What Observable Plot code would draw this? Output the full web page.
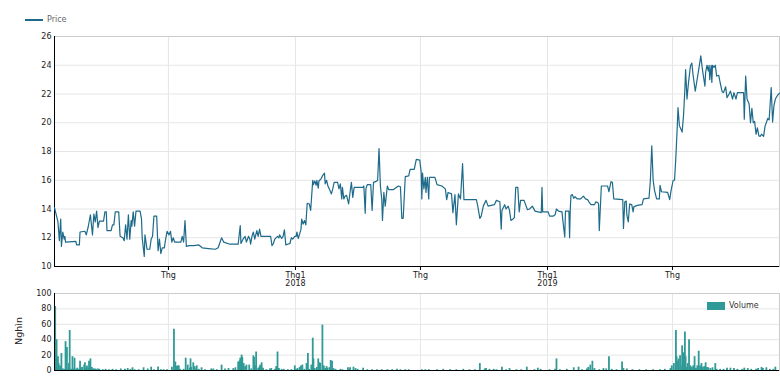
<!DOCTYPE html>
<html>
<head>
<meta charset="utf-8">
<script src="https://cdn.jsdelivr.net/npm/d3@7"></script>
<script src="https://cdn.jsdelivr.net/npm/@observablehq/plot@0.6"></script>
<style>
  html, body { margin: 0; padding: 0; background: #fff; }
  #wrap { position: relative; width: 780px; height: 378px; overflow: hidden; font-family: "DejaVu Sans", sans-serif; }
  #topChart, #bottomChart { position: absolute; left: 0; }
  #topChart { top: 0; }
  #bottomChart { top: 290px; }
  .leg { position: absolute; font-family: "DejaVu Sans", sans-serif; font-size: 8px; line-height: 10px; white-space: nowrap; }
  .leg .sw { position: absolute; }
  #ylab { position: absolute; left: 18px; top: 331px; width: 0; height: 0; }
  #ylab span { position: absolute; transform: translate(-50%, -50%) rotate(-90deg); font-family: "DejaVu Sans", sans-serif; font-size: 9.5px; color: #222; white-space: nowrap; }
</style>
</head>
<body>
<div id="wrap">
  <div id="topChart"></div>
  <div id="bottomChart"></div>
  <div class="leg" style="left:25px;top:15px;color:#666;">
    <span class="sw" style="left:0;top:4px;width:18px;height:2px;background:#1d6a8a;"></span>
    <span style="position:absolute;left:22px;top:0;">Price</span>
  </div>
  <div class="leg" style="left:707px;top:301px;color:#333;">
    <span class="sw" style="left:0;top:1px;width:18px;height:8px;background:#2f9a96;"></span>
    <span style="position:absolute;left:22px;top:0;">Volume</span>
  </div>
  <div id="ylab"><span>Nghìn</span></div>
</div>
<script>
const priceDates = [
"2017-01-17","2017-01-22","2017-01-24","2017-01-26","2017-01-27","2017-01-29","2017-01-31","2017-02-01","2017-02-02","2017-02-17",
"2017-02-18","2017-02-22","2017-02-23","2017-03-02","2017-03-04","2017-03-07","2017-03-10","2017-03-13","2017-03-15","2017-03-17",
"2017-03-19","2017-03-21","2017-03-23","2017-03-29","2017-03-31","2017-04-02","2017-04-03","2017-04-09","2017-04-11","2017-04-13",
"2017-04-15","2017-04-20","2017-04-22","2017-04-26","2017-04-28","2017-04-30","2017-05-02","2017-05-04","2017-05-06","2017-05-08",
"2017-05-09","2017-05-11","2017-05-13","2017-05-15","2017-05-21","2017-05-23","2017-05-24","2017-05-27","2017-05-28","2017-05-31",
"2017-06-04","2017-06-06","2017-06-08","2017-06-10","2017-06-14","2017-06-16","2017-06-18","2017-06-20","2017-06-22","2017-06-25",
"2017-06-27","2017-06-29","2017-07-02","2017-07-04","2017-07-06","2017-07-08","2017-07-10","2017-07-19","2017-07-21","2017-07-23",
"2017-07-25","2017-07-27","2017-07-31","2017-08-07","2017-08-14","2017-08-19","2017-08-28","2017-09-07","2017-09-11","2017-09-16",
"2017-09-19","2017-09-28","2017-10-10","2017-10-13","2017-10-14","2017-10-17","2017-10-20","2017-10-22","2017-10-25","2017-10-27",
"2017-10-28","2017-10-30","2017-11-01","2017-11-03","2017-11-06","2017-11-08","2017-11-10","2017-11-12","2017-11-26","2017-11-28",
"2017-11-30","2017-12-02","2017-12-06","2017-12-08","2017-12-09","2017-12-12","2017-12-14","2017-12-16","2017-12-18","2017-12-24",
"2017-12-26","2017-12-28","2017-12-31","2018-01-02","2018-01-03","2018-01-05","2018-01-07","2018-01-09","2018-01-10","2018-01-12",
"2018-01-14","2018-01-16","2018-01-18","2018-01-21","2018-01-23","2018-01-26","2018-01-27","2018-01-29","2018-01-31","2018-02-01",
"2018-02-03","2018-02-04","2018-02-07","2018-02-09","2018-02-12","2018-02-13","2018-02-15","2018-02-17","2018-02-19","2018-02-22",
"2018-02-24","2018-02-26","2018-03-03","2018-03-05","2018-03-07","2018-03-09","2018-03-10","2018-03-12","2018-03-14","2018-03-16",
"2018-03-19","2018-03-21","2018-03-23","2018-03-25","2018-03-27","2018-04-09","2018-04-10","2018-04-12","2018-04-13","2018-04-15",
"2018-04-20","2018-04-22","2018-04-24","2018-04-27","2018-04-30","2018-05-02","2018-05-04","2018-05-06","2018-05-07","2018-05-09",
"2018-05-11","2018-05-14","2018-05-16","2018-05-23","2018-05-30","2018-06-02","2018-06-04","2018-06-06","2018-06-09","2018-06-14",
"2018-06-16","2018-06-22","2018-06-25","2018-06-30","2018-07-02","2018-07-03","2018-07-04","2018-07-06","2018-07-08","2018-07-09",
"2018-07-11","2018-07-13","2018-07-14","2018-07-22","2018-07-25","2018-08-01","2018-08-06","2018-08-08","2018-08-10","2018-08-15",
"2018-08-17","2018-08-20","2018-08-22","2018-08-25","2018-08-28","2018-08-31","2018-09-02","2018-09-20","2018-09-22","2018-09-25",
"2018-09-27","2018-09-30","2018-10-04","2018-10-07","2018-10-16","2018-10-19","2018-10-24","2018-10-26","2018-10-27","2018-10-31",
"2018-11-02","2018-11-05","2018-11-07","2018-11-09","2018-11-12","2018-11-14","2018-11-16","2018-11-19","2018-11-21","2018-11-23",
"2018-11-28","2018-12-03","2018-12-06","2018-12-10","2018-12-14","2018-12-23","2018-12-24","2018-12-25","2019-01-02","2019-01-04",
"2019-01-09","2019-01-12","2019-01-14","2019-01-17","2019-01-22","2019-01-23","2019-01-26","2019-01-27","2019-02-01","2019-02-02",
"2019-02-03","2019-02-04","2019-02-06","2019-02-08","2019-02-10","2019-02-13","2019-02-18","2019-02-22","2019-02-25","2019-02-28",
"2019-03-02","2019-03-05","2019-03-10","2019-03-12","2019-03-15","2019-03-16","2019-03-17","2019-03-20","2019-03-29","2019-03-31",
"2019-04-03","2019-04-05","2019-04-07","2019-04-20","2019-04-21","2019-04-23","2019-04-25","2019-04-26","2019-04-28","2019-04-30",
"2019-05-03","2019-05-05","2019-05-06","2019-05-11","2019-05-18","2019-05-20","2019-05-28","2019-05-30","2019-06-01","2019-06-03",
"2019-06-05","2019-06-08","2019-06-12","2019-06-13","2019-06-15","2019-06-24","2019-06-27","2019-06-29","2019-07-02","2019-07-04",
"2019-07-06","2019-07-08","2019-07-09","2019-07-11","2019-07-15","2019-07-17","2019-07-19","2019-07-20","2019-07-22","2019-07-24",
"2019-07-27","2019-07-29","2019-07-31","2019-08-03","2019-08-05","2019-08-08","2019-08-11","2019-08-13","2019-08-14","2019-08-17",
"2019-08-18","2019-08-20","2019-08-22","2019-08-23","2019-08-24","2019-08-26","2019-08-27","2019-08-28","2019-08-30","2019-09-01",
"2019-09-03","2019-09-06","2019-09-08","2019-09-11","2019-09-13","2019-09-16","2019-09-18","2019-09-21","2019-09-23","2019-09-26",
"2019-09-28","2019-10-01","2019-10-03","2019-10-12","2019-10-13","2019-10-15","2019-10-17","2019-10-20","2019-10-22","2019-10-24",
"2019-10-26","2019-10-28","2019-10-30","2019-11-01","2019-11-03","2019-11-05","2019-11-07","2019-11-10","2019-11-12","2019-11-16",
"2019-11-18","2019-11-21","2019-11-23","2019-11-25","2019-11-27","2019-11-30","2019-12-03"
];
const priceValues = [
14.1,13.1,11.8,13.3,11.4,12.4,11.9,12.1,11.7,11.75,
11.5,11.5,12.4,12.45,12.2,12.8,13.6,12.2,13.65,13.1,
13.85,12.7,13.15,13.15,13.8,13.8,12.5,12.5,12.9,12.9,
13.8,13.8,12.1,12.0,11.8,12.9,11.9,13.6,11.9,13.2,
12.8,13.8,12.8,13.85,13.85,13.3,12.0,10.7,12.2,11.2,
11.2,11.9,12.1,13.5,13.5,11.1,11.9,10.9,11.3,11.3,
11.9,12.45,12.2,12.45,11.7,12.0,11.7,11.7,12.1,11.7,
13.2,11.4,11.45,11.45,11.5,11.3,11.25,11.2,11.3,12.0,
11.7,11.55,11.55,12.85,11.6,11.9,12.1,11.7,12.1,11.9,
11.55,12.1,12.4,11.9,12.5,12.1,12.6,12.1,12.1,11.45,
11.6,11.9,12.1,12.0,12.2,11.95,12.1,12.55,11.5,11.6,
12.0,11.9,12.1,12.1,12.4,11.95,12.25,12.6,13.3,12.95,
13.2,12.9,14.4,14.35,13.9,16.0,15.7,15.95,15.65,16.0,
15.45,15.95,16.1,16.3,16.5,15.75,16.0,15.6,15.4,15.05,
15.4,15.85,15.85,15.4,15.75,14.7,15.5,14.7,14.9,14.95,
14.35,15.15,15.85,14.8,15.5,15.5,15.6,13.7,15.4,15.7,
15.7,13.9,15.85,15.9,16.0,18.2,15.6,14.65,13.2,15.15,
14.2,15.6,15.35,15.35,15.6,15.55,13.35,13.35,16.25,16.3,
16.75,16.75,17.45,17.4,16.6,14.7,16.5,15.4,16.2,15.15,
16.2,14.7,16.2,16.2,15.7,15.6,15.4,14.65,15.15,15.05,
13.75,15.0,12.9,15.05,14.7,17.15,14.65,14.65,14.2,13.35,
13.5,14.2,14.6,14.2,14.3,14.6,14.5,12.6,13.9,14.3,
14.0,14.2,13.9,13.2,13.3,13.4,15.5,15.5,13.8,14.6,
14.6,13.95,14.0,14.2,13.85,13.75,15.5,13.8,13.8,13.5,
13.5,13.6,14.0,13.85,13.8,13.3,12.05,13.85,13.85,12.0,
14.0,14.95,15.0,14.75,14.85,14.7,14.7,14.9,14.7,14.65,
14.5,14.3,14.3,14.5,14.45,14.3,12.5,15.6,15.6,15.2,
15.9,15.85,14.7,14.65,12.65,14.5,14.55,13.55,13.1,14.35,
14.3,13.8,14.15,14.25,14.3,14.7,14.75,16.0,18.4,16.0,
15.3,14.7,14.7,15.65,15.2,15.15,14.65,15.3,16.0,16.0,
17.7,19.8,21.05,19.8,19.35,20.5,22.35,23.7,21.65,22.7,
23.95,24.15,23.25,22.2,22.8,23.7,24.65,23.85,23.5,22.55,
23.5,24.0,23.6,24.0,23.0,24.0,22.8,24.0,23.85,24.0,
23.25,23.3,22.8,22.15,22.1,22.5,21.75,22.0,22.2,21.65,
22.1,21.65,22.1,22.1,20.25,23.25,21.65,21.3,20.0,21.0,
20.0,20.1,19.2,19.65,19.1,19.05,19.2,19.05,19.75,20.3,
20.2,22.45,20.05,21.2,21.65,21.9,22.05
];

const volumeDates = [
"2017-01-18","2017-01-19","2017-01-20","2017-01-22","2017-01-23","2017-01-25","2017-01-26","2017-01-27","2017-01-29","2017-01-31",
"2017-02-02","2017-02-04","2017-02-06","2017-02-07","2017-02-08","2017-02-10","2017-02-12","2017-02-13","2017-02-15","2017-02-17",
"2017-02-19","2017-02-21","2017-02-23","2017-02-24","2017-02-26","2017-03-01","2017-03-02","2017-03-03","2017-03-05","2017-03-07",
"2017-03-08","2017-03-10","2017-03-12","2017-03-14","2017-03-16","2017-03-18","2017-03-21","2017-03-23","2017-03-28","2017-04-01",
"2017-04-06","2017-04-11","2017-04-16","2017-04-23","2017-04-29","2017-05-03","2017-05-07","2017-05-10","2017-05-13","2017-05-19",
"2017-05-26","2017-06-01","2017-06-06","2017-06-10","2017-06-16","2017-06-20","2017-06-24","2017-06-29","2017-07-06","2017-07-09",
"2017-07-11","2017-07-13","2017-07-14","2017-07-16","2017-07-18","2017-07-23","2017-07-26","2017-07-29","2017-08-01","2017-08-02",
"2017-08-03","2017-08-06","2017-08-08","2017-08-10","2017-08-11","2017-08-14","2017-08-18","2017-08-23","2017-09-01","2017-09-04",
"2017-09-09","2017-09-16","2017-09-21","2017-09-26","2017-10-03","2017-10-06","2017-10-10","2017-10-12","2017-10-13","2017-10-15",
"2017-10-16","2017-10-18","2017-10-20","2017-10-22","2017-10-26","2017-10-29","2017-11-01","2017-11-02","2017-11-04","2017-11-05",
"2017-11-08","2017-11-10","2017-11-11","2017-11-13","2017-11-15","2017-11-20","2017-11-25","2017-11-27","2017-12-02","2017-12-04",
"2017-12-06","2017-12-08","2017-12-12","2017-12-15","2017-12-21","2017-12-26","2017-12-31","2018-01-02","2018-01-04","2018-01-07",
"2018-01-09","2018-01-11","2018-01-14","2018-01-17","2018-01-19","2018-01-21","2018-01-24","2018-01-26","2018-01-27","2018-01-29",
"2018-02-01","2018-02-03","2018-02-05","2018-02-06","2018-02-09","2018-02-11","2018-02-13","2018-02-15","2018-02-16","2018-02-19",
"2018-02-21","2018-02-23","2018-02-25","2018-02-28","2018-03-07","2018-03-10","2018-03-18","2018-03-21","2018-03-26","2018-03-29",
"2018-04-01","2018-04-09","2018-04-15","2018-04-22","2018-04-29","2018-05-06","2018-05-14","2018-05-21","2018-05-28","2018-06-02",
"2018-06-09","2018-06-14","2018-07-03","2018-07-08","2018-07-13","2018-07-25","2018-08-03","2018-08-13","2018-08-22","2018-09-01",
"2018-09-10","2018-09-18","2018-09-25","2018-10-02","2018-10-04","2018-10-09","2018-10-15","2018-10-19","2018-10-27","2018-11-02",
"2018-11-07","2018-11-17","2018-11-24","2018-12-02","2018-12-13","2018-12-18","2018-12-22","2019-01-04","2019-01-12","2019-01-14",
"2019-01-19","2019-01-29","2019-02-08","2019-02-15","2019-02-20","2019-02-27","2019-03-01","2019-03-04","2019-03-07","2019-03-10",
"2019-03-17","2019-03-23","2019-03-27","2019-03-31","2019-04-04","2019-04-11","2019-04-19","2019-04-21","2019-04-26","2019-05-04",
"2019-05-14","2019-05-24","2019-06-03","2019-06-13","2019-06-20","2019-06-28","2019-06-30","2019-07-03","2019-07-06","2019-07-07",
"2019-07-09","2019-07-10","2019-07-12","2019-07-13","2019-07-15","2019-07-17","2019-07-19","2019-07-20","2019-07-22","2019-07-23",
"2019-07-25","2019-07-27","2019-07-29","2019-07-31","2019-08-02","2019-08-04","2019-08-06","2019-08-08","2019-08-10","2019-08-12",
"2019-08-14","2019-08-16","2019-08-18","2019-08-20","2019-08-22","2019-08-25","2019-08-28","2019-09-01","2019-09-03","2019-09-08",
"2019-09-13","2019-09-18","2019-09-23","2019-09-28","2019-10-03","2019-10-10","2019-10-13","2019-10-18","2019-10-23","2019-10-30",
"2019-11-02","2019-11-07","2019-11-09","2019-11-14","2019-11-19","2019-11-24","2019-11-27"
];
const volumeValues = [
83,29,40,18,9,6,2,22,2,1.5,
37.5,30,2,9,52,1.5,18,2,16,1.5,
3,1.5,12,3,4,7,10,3,6,3,
12,15,4,2,2,1.5,2,1.5,1,1.5,
1,1.5,1,2,1.5,2.5,1.5,3.5,1,1,
3.5,2,4.3,1,4.7,1,1,1,4.3,53.5,
11,5,6,6,1.5,1.5,16,7,3,15,
4,10,5,2,6,1.5,3.5,1,2,2,
1,7,2,2.5,2.5,3.5,11,12.5,16,20,
17,9,5,7,7,2,19,17,6,24,
3,5,7,10,3,1,2,2.5,1.5,5,
24,2.5,1.5,1.5,1,1,6,1.5,2.5,4,
6,7,1.5,9,22,1.5,7,42,15,2.5,
4,15,10,9,59,6,2.5,5,3,3.5,
13,12,2.5,1.5,1.5,1,3.5,3.5,4.3,2.5,
1.5,3,1,1,1,1,1,1,1.5,1,
1,1,1,1,1,1,1.5,1,1,1.5,
1,1,9,2,2.5,1.5,1.5,1,4.3,1,
2.5,1,1,4.3,1,3,1.5,1,1.5,15,
1,1.5,3.5,4.3,1,2,4,7,12,2.5,
1,2.5,2,18,1.5,1,11,2.5,2,1,
1,1,1,1,1.5,2.5,6,9,52,18,
12,15,19,6,32,23,50,18,4,9,
40,6,4,6,18,2.5,6,25,6,9,
4,5,10,4,3.5,2.5,3.5,9,1.5,1.5,
1.5,3,3,2.5,1.5,1.5,3,2.5,1.5,1.5,
2.5,4,2.5,3.5,1.5,1.5,4.3
];

const priceTicks = [10, 12, 14, 16, 18, 20, 22, 24, 26];
const volumeTicks = [0, 20, 40, 60, 80, 100];
const xTickDates = ["2017-07-01", "2018-01-01", "2018-07-01", "2019-01-01", "2019-07-01"];
const xTickLabels = ["Thg", "Thg1\n2018", "Thg", "Thg1\n2019", "Thg"];

const parse = d3.utcParse("%Y-%m-%d");
const priceRows = priceDates.map((d, i) => ({date: parse(d), value: priceValues[i]}));
const volumeRows = volumeDates.map((d, i) => ({date: parse(d), value: volumeValues[i]}));
const xTicks = xTickDates.map(parse);
const xDomain = [priceRows[0].date, priceRows[priceRows.length - 1].date];

const fmtX = d => { const i = xTicks.findIndex(t => +t === +d); return i >= 0 ? xTickLabels[i] : ""; };
const gridColor = "#e6e6e6";
const baseStyle = {fontFamily: "DejaVu Sans, sans-serif", fontSize: "8px", color: "#222", background: "transparent", overflow: "visible"};

const priceChart = Plot.plot({
  width: 780, height: 290,
  marginLeft: 54, marginRight: 1, marginTop: 36, marginBottom: 24,
  style: baseStyle,
  x: {type: "utc", domain: xDomain},
  y: {domain: [priceTicks[0], priceTicks[priceTicks.length - 1]]},
  marks: [
    Plot.gridY(priceTicks, {stroke: gridColor, strokeOpacity: 1}),
    Plot.gridX(xTicks, {stroke: gridColor, strokeOpacity: 1}),
    Plot.frame({stroke: "#cccccc"}),
    Plot.axisY(priceTicks, {tickSize: 0, tickPadding: 3, label: null}),
    Plot.axisX(xTicks, {tickFormat: fmtX, tickSize: 4, tickPadding: 2, stroke: "#000", label: null}),
    Plot.ruleX([xDomain[0]], {stroke: "#000", strokeWidth: 1}),
    Plot.ruleY([priceTicks[0]], {stroke: "#000", strokeWidth: 1.2}),
    Plot.line(priceRows, {x: "date", y: "value", stroke: "#1d6a8a", strokeWidth: 1.2})
  ]
});
document.getElementById("topChart").appendChild(priceChart);

const volumeChart = Plot.plot({
  width: 780, height: 88,
  marginLeft: 54, marginRight: 1, marginTop: 3, marginBottom: 8,
  style: baseStyle,
  x: {type: "utc", domain: xDomain, axis: null},
  y: {domain: [volumeTicks[0], volumeTicks[volumeTicks.length - 1]]},
  marks: [
    Plot.gridY(volumeTicks, {stroke: gridColor, strokeOpacity: 1}),
    Plot.gridX(xTicks, {stroke: gridColor, strokeOpacity: 1}),
    Plot.frame({stroke: "#cccccc"}),
    Plot.axisY(volumeTicks, {tickSize: 0, tickPadding: 3, label: null}),
    Plot.ruleX(volumeRows, {x: "date", y1: 0, y2: "value", stroke: "#2f9a96", strokeWidth: 1.8}),
    Plot.ruleX([xDomain[0]], {stroke: "#000", strokeWidth: 1}),
    Plot.ruleY([volumeTicks[0]], {stroke: "#000", strokeWidth: 1.2})
  ]
});
document.getElementById("bottomChart").appendChild(volumeChart);
</script>
</body>
</html>
